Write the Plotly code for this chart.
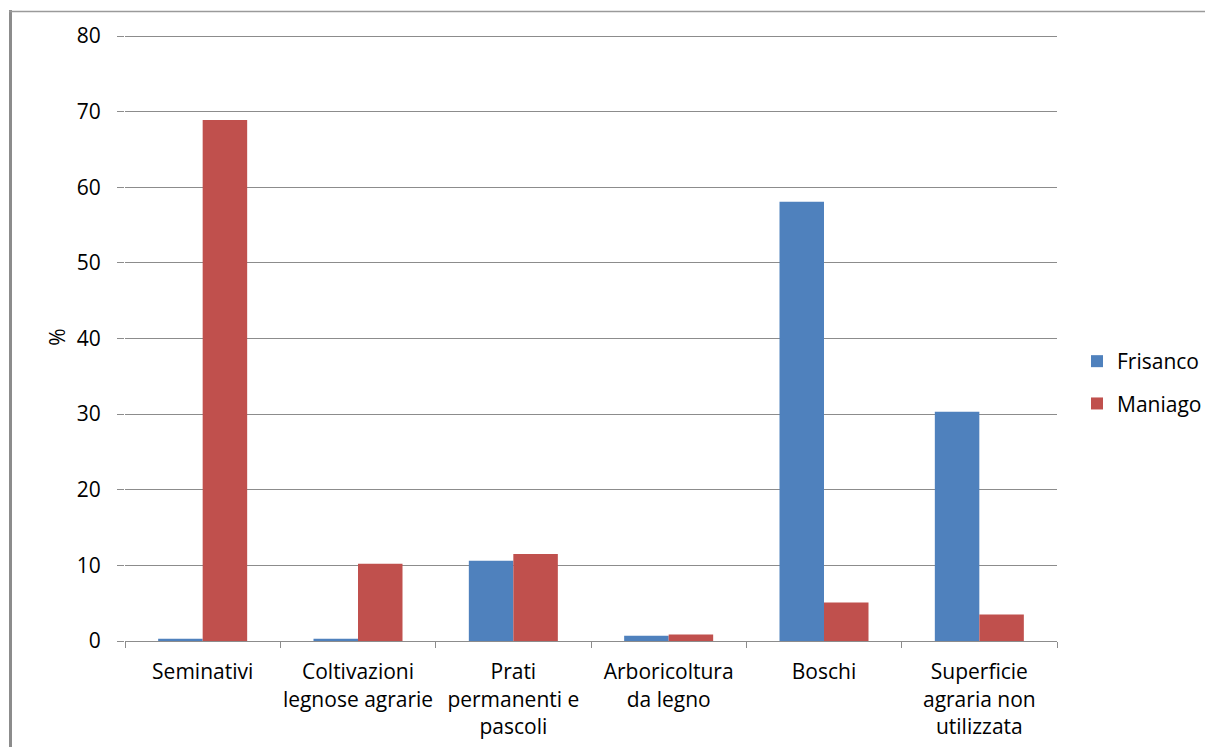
import plotly.graph_objects as go

categories = [
    "Seminativi",
    "Coltivazioni<br>legnose agrarie",
    "Prati<br>permanenti e<br>pascoli",
    "Arboricoltura<br>da legno",
    "Boschi",
    "Superficie<br>agraria non<br>utilizzata",
]
frisanco = [0.3, 0.3, 10.6, 0.7, 58.1, 30.3]
maniago = [68.9, 10.2, 11.5, 0.85, 5.1, 3.5]
y_ticks = [0, 10, 20, 30, 40, 50, 60, 70, 80]

FONT = "Open Sans"
FS = 21
GRID = "#8c8c8c"

fig = go.Figure()
fig.add_trace(go.Bar(name="Frisanco", x=categories, y=frisanco,
                     marker=dict(color="#4F81BD", line=dict(width=0)),
                     legendgroup="a"))
fig.add_trace(go.Bar(name="Maniago", x=categories, y=maniago,
                     marker=dict(color="#C0504D", line=dict(width=0)),
                     legendgroup="b"))

# page body has an 8px offset; figure is sized to compensate
OFF = 8
W, H = 1213 - OFF, 747 - OFF
Y_MAX = 80.4
ppu = (641 - 36) / 80.0
top_px = 641 - Y_MAX * ppu
ml, mr = 125 - OFF, W - (1057 - OFF)
mt, mb = top_px - OFF, H - (641 - OFF)
pw, ph = W - ml - mr, H - mt - mb

def px_x(p):
    return (p - OFF - ml) / pw

def px_y(p):
    return (H - mb - (p - OFF)) / ph

fig.update_layout(
    width=W, height=H,
    margin=dict(l=ml, r=mr, t=mt, b=mb, autoexpand=False),
    paper_bgcolor="white", plot_bgcolor="white",
    barmode="group", bargap=0.427, bargroupgap=0,
    font=dict(family=FONT, size=FS, color="#000000"),
    legend=dict(x=px_x(1077), y=px_y(341), xanchor="left", yanchor="top",
                traceorder="grouped", tracegroupgap=12,
                font=dict(family=FONT, size=FS), itemwidth=30,
                bgcolor="rgba(0,0,0,0)"),
    xaxis=dict(showline=True, linecolor=GRID, linewidth=1,
               ticks="outside", tickson="boundaries", ticklen=6,
               tickcolor=GRID, showgrid=False, ticklabelstandoff=12,
               tickangle=0, tickfont=dict(family=FONT, size=FS)),
    yaxis=dict(range=[0, Y_MAX], tickvals=y_ticks, showgrid=True,
               gridcolor=GRID, gridwidth=1, showline=False, zeroline=False,
               ticks="outside", ticklen=7, tickcolor=GRID, tickwidth=1,
               ticklabelstandoff=12,
               title=dict(text="%", standoff=5, font=dict(family=FONT, size=FS)),
               tickfont=dict(family=FONT, size=FS)),
    shapes=[
        dict(type="line", xref="paper", yref="paper",
             x0=px_x(10.5), x1=px_x(10.5), y0=px_y(10), y1=px_y(760),
             line=dict(color="#8c8c8c", width=3)),
        dict(type="line", xref="paper", yref="paper",
             x0=px_x(9), x1=px_x(1225), y0=px_y(11.5), y1=px_y(11.5),
             line=dict(color="#9a9a9a", width=1.5)),
    ],
)

fig.write_html("out.html")
